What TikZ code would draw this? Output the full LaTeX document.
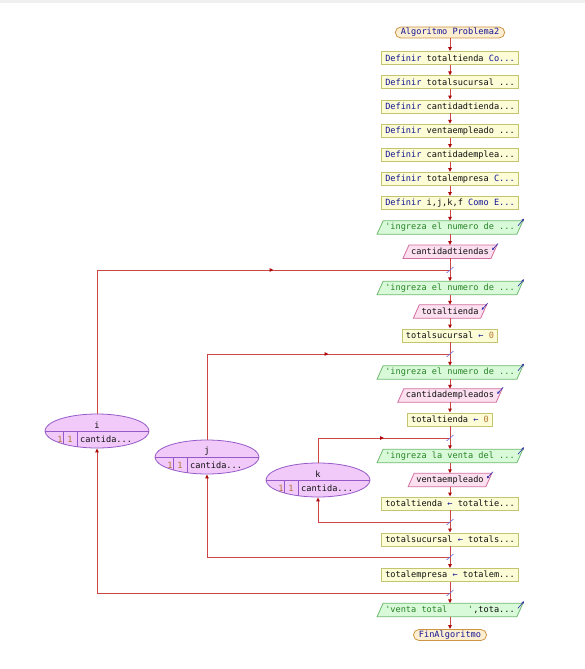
\documentclass[tikz,border=0pt]{standalone}
\usepackage{fontspec}
\setmonofont{DejaVu Sans Mono}
\usetikzlibrary{arrows.meta,shapes.geometric,decorations.markings,backgrounds,calc}
\definecolor{lnc}{RGB}{205,70,70}
\definecolor{arc}{RGB}{170,10,10}
\definecolor{yfill}{RGB}{252,252,214}
\definecolor{ydraw}{RGB}{196,196,112}
\definecolor{sfill}{RGB}{252,238,208}
\definecolor{sdraw}{RGB}{205,150,70}
\definecolor{gfill}{RGB}{216,250,216}
\definecolor{gdraw}{RGB}{110,185,110}
\definecolor{pfill}{RGB}{252,224,240}
\definecolor{pdraw}{RGB}{210,110,160}
\definecolor{efill}{RGB}{242,202,250}
\definecolor{edraw}{RGB}{150,90,200}
\definecolor{kw}{RGB}{20,20,150}
\definecolor{strc}{RGB}{40,130,40}
\definecolor{numc}{RGB}{180,120,50}
\definecolor{idc}{RGB}{15,15,15}
\definecolor{tickc}{RGB}{110,110,220}
\definecolor{iconc}{RGB}{40,40,170}
\definecolor{bandc}{RGB}{240,240,240}
\newcommand\kwd[1]{\textcolor{kw}{#1}}
\newcommand\strt[1]{\textcolor{strc}{#1}}
\newcommand\asg{\textcolor{kw}{←}}
\newcommand\mkpara[3]{\path[fill=#2, draw=#3, line width=0.8pt] ([xshift=-3pt]#1.south west) -- ([xshift=3pt]#1.north west) -- ([xshift=3pt]#1.north east) -- ([xshift=-3pt]#1.south east) -- cycle;}
\newcommand\outicon[1]{\draw[iconc, line width=0.6pt, -{Stealth[length=2.5pt,width=2.5pt]}] ([shift={(-2pt,-5pt)}]#1.north east) -- ([shift={(4pt,2pt)}]#1.north east);}
\newcommand\inicon[1]{\draw[iconc, line width=0.6pt, -{Stealth[length=2.5pt,width=2.5pt]}] ([shift={(4pt,1.5pt)}]#1.north east) -- ([shift={(-2pt,-5pt)}]#1.north east);}
\newcommand\jtick[1]{\draw[tickc, line width=0.6pt] ([shift={(-3.5pt,-3pt)}]#1) -- ([shift={(3.5pt,3pt)}]#1);}
\tikzset{
 base/.style={font=\ttfamily\fontsize{8.6}{10}\selectfont, text=idc, inner ysep=0pt, minimum height=13pt},
 proc/.style={base, rectangle, draw=ydraw, fill=yfill, inner xsep=3.5pt, line width=0.8pt},
 term/.style={base, rectangle, rounded corners=5.5pt, draw=sdraw, fill=sfill, inner xsep=5.5pt, minimum height=11pt, line width=0.8pt, text=kw},
 para/.style={base, inner xsep=5pt},
 plain/.style={draw=lnc, line width=1pt},
 flow/.style={plain, -{Triangle[length=4pt,width=3.5pt,color=arc]}},
 midarr/.style={postaction={decorate}, decoration={markings, mark=at position 0.5 with {\arrow{Triangle[length=4pt,width=3.5pt,color=arc]}}}},
 loopell/.style={ellipse, draw=edraw, fill=efill, line width=0.8pt, minimum width=104pt, minimum height=34pt, inner sep=0pt},
 etxt/.style={font=\ttfamily\fontsize{8.6}{10}\selectfont, text=idc, inner sep=0pt},
}
\begin{document}
\begin{tikzpicture}[x=1pt,y=-1pt]
\useasboundingbox (0,0) rectangle (585,669);

% main column nodes
\node[term] (n0) at (450,32.5) {Algoritmo Problema2};
\node[proc] (d1) at (450,58) {\kwd{Definir} totaltienda \kwd{Co...}};
\node[proc] (d2) at (450,82.3) {\kwd{Definir} totalsucursal ...};
\node[proc] (d3) at (450,106.5) {\kwd{Definir} cantidadtienda...};
\node[proc] (d4) at (450,130.7) {\kwd{Definir} ventaempleado ...};
\node[proc] (d5) at (450,155) {\kwd{Definir} cantidademplea...};
\node[proc] (d6) at (450,179) {\kwd{Definir} totalempresa \kwd{C...}};
\node[proc] (d7) at (450,203) {\kwd{Definir} i,j,k,f \kwd{Como E...}};
\node[para] (o1) at (450,227.5) {\strt{'ingreza el numero de ...}};
\node[para] (i1) at (450,251.7) {cantidadtiendas};
\node[para] (o2) at (450,288) {\strt{'ingreza el numero de ...}};
\node[para] (i2) at (450,311.5) {totaltienda};
\node[proc] (a1) at (450,335.5) {totalsucursal \asg{} \textcolor{numc}{0}};
\node[para] (o3) at (450,372.5) {\strt{'ingreza el numero de ...}};
\node[para] (i3) at (450,395.5) {cantidadempleados};
\node[proc] (a2) at (450,419.5) {totaltienda \asg{} \textcolor{numc}{0}};
\node[para] (o4) at (450,456) {\strt{'ingreza la venta del ...}};
\node[para] (i4) at (450,480) {ventaempleado};
\node[proc] (a3) at (450,503.5) {totaltienda \asg{} totaltie...};
\node[proc] (a4) at (450,539.5) {totalsucursal \asg{} totals...};
\node[proc] (a5) at (450,575) {totalempresa \asg{} totalem...};
\node[para] (o5) at (450,610) {\strt{'venta total}\ \ \ \ \strt{'},tota...};
\node[term] (n1) at (450,635) {FinAlgoritmo};

\begin{pgfonlayer}{background}
\fill[white] (0,0) rectangle (585,669);
\fill[bandc] (0,0) rectangle (585,3.5);
\mkpara{o1}{gfill}{gdraw}
\mkpara{o2}{gfill}{gdraw}
\mkpara{o3}{gfill}{gdraw}
\mkpara{o4}{gfill}{gdraw}
\mkpara{o5}{gfill}{gdraw}
\mkpara{i1}{pfill}{pdraw}
\mkpara{i2}{pfill}{pdraw}
\mkpara{i3}{pfill}{pdraw}
\mkpara{i4}{pfill}{pdraw}
\end{pgfonlayer}
\outicon{o1}\outicon{o2}\outicon{o3}\outicon{o4}\outicon{o5}
\inicon{i1}\inicon{i2}\inicon{i3}\inicon{i4}

% loop ellipses
\node[loopell] (ei) at (97,431) {};
\node[loopell] (ej) at (207,457) {};
\node[loopell] (ek) at (318,480) {};
\foreach \e/\v in {ei/i, ej/j, ek/k}{
  \draw[edraw, line width=0.8pt] (\e.west) -- (\e.east);
  \draw[edraw, line width=0.8pt] ([xshift=-33.5pt]\e.center) -- ([shift={(-33.5pt,-12.8pt)}]\e.center);
  \draw[edraw, line width=0.8pt] ([xshift=-20pt]\e.center) -- ([shift={(-20pt,-15.5pt)}]\e.center);
  \node[etxt] (\e-v) at ([yshift=6pt]\e.center) {\v};
  \node[etxt] (\e-a) at ([shift={(-37pt,-8.5pt)}]\e.center) {\textcolor{numc}{1}};
  \node[etxt] (\e-b) at ([shift={(-27pt,-8.5pt)}]\e.center) {\textcolor{numc}{1}};
  \node[etxt, anchor=west] (\e-c) at ([shift={(-17pt,-8.5pt)}]\e.center) {cantida...};
}

% join coordinates
\coordinate (ji) at (450,270);
\coordinate (jj) at (450,354);
\coordinate (jk) at (450,438);
\coordinate (bk) at (450,522);
\coordinate (bj) at (450,557);
\coordinate (bi) at (450,593);
\coordinate (ti) at (97,270);
\coordinate (tj) at (207,354);
\coordinate (tk) at (318,438);

% main flow
\draw[flow] (n0.south) -- (d1.north);
\draw[flow] (d1.south) -- (d2.north);
\draw[flow] (d2.south) -- (d3.north);
\draw[flow] (d3.south) -- (d4.north);
\draw[flow] (d4.south) -- (d5.north);
\draw[flow] (d5.south) -- (d6.north);
\draw[flow] (d6.south) -- (d7.north);
\draw[flow] (d7.south) -- (o1.north);
\draw[flow] (o1.south) -- (i1.north);
\draw[plain] (i1.south) -- (ji);
\draw[flow] (ji) -- (o2.north);
\draw[flow] (o2.south) -- (i2.north);
\draw[flow] (i2.south) -- (a1.north);
\draw[plain] (a1.south) -- (jj);
\draw[flow] (jj) -- (o3.north);
\draw[flow] (o3.south) -- (i3.north);
\draw[flow] (i3.south) -- (a2.north);
\draw[plain] (a2.south) -- (jk);
\draw[flow] (jk) -- (o4.north);
\draw[flow] (o4.south) -- (i4.north);
\draw[flow] (i4.south) -- (a3.north);
\draw[plain] (a3.south) -- (bk);
\draw[flow] (bk) -- (a4.north);
\draw[plain] (a4.south) -- (bj);
\draw[flow] (bj) -- (a5.north);
\draw[plain] (a5.south) -- (bi);
\draw[flow] (bi) -- (o5.north);
\draw[flow] (o5.south) -- (n1.north);

% loops
\draw[plain] (ei.north) -- (ti);
\draw[plain, midarr] (ti) -- (ji);
\draw[plain] (ej.north) -- (tj);
\draw[plain, midarr] (tj) -- (jj);
\draw[plain] (ek.north) -- (tk);
\draw[plain, midarr] (tk) -- (jk);
\draw[flow] (bk) -| (ek.south);
\draw[flow] (bj) -| (ej.south);
\draw[flow] (bi) -| (ei.south);

\jtick{ji}\jtick{jj}\jtick{jk}\jtick{bk}\jtick{bj}\jtick{bi}
\end{tikzpicture}
\end{document}
